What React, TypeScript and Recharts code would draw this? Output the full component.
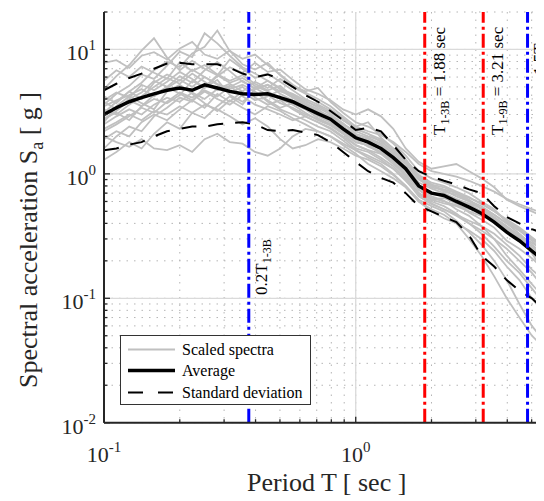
import React from 'react';
import { ComposedChart, Line, XAxis, YAxis, CartesianGrid, ReferenceLine, Legend } from 'recharts';

const FONT = "'Liberation Serif', 'Times New Roman', serif";

const periods = [0.1, 0.112, 0.126, 0.141, 0.158, 0.178, 0.2, 0.224, 0.251, 0.282, 0.316, 0.355, 0.398, 0.447, 0.501, 0.562, 0.631, 0.708, 0.794, 0.891, 1.0, 1.12, 1.26, 1.41, 1.58, 1.78, 2.0, 2.24, 2.51, 2.82, 3.16, 3.55, 3.98, 4.47, 5.01, 5.62];

const meanSa = [3.0, 3.4, 3.8, 4.1, 4.4, 4.7, 4.9, 4.7, 5.2, 4.9, 4.6, 4.4, 4.35, 4.4, 4.1, 3.8, 3.4, 3.05, 2.75, 2.3, 1.95, 1.8, 1.6, 1.35, 1.1, 0.8, 0.7, 0.67, 0.6, 0.54, 0.48, 0.41, 0.34, 0.29, 0.24, 0.2];
const upperSa = [4.7, 5.3, 5.9, 6.4, 7.0, 7.7, 7.8, 7.6, 7.6, 7.6, 7.1, 6.4, 6.0, 6.3, 5.8, 5.0, 4.3, 3.8, 3.2, 2.7, 2.25, 2.35, 2.2, 1.7, 1.3, 1.05, 0.95, 0.88, 0.82, 0.75, 0.7, 0.55, 0.45, 0.4, 0.36, 0.33];
const lowerSa = [1.55, 1.6, 1.72, 1.8, 2.0, 2.2, 2.3, 2.4, 2.4, 2.5, 2.55, 2.6, 2.5, 2.25, 2.2, 2.25, 2.15, 2.05, 1.8, 1.5, 1.25, 1.05, 0.93, 0.85, 0.7, 0.55, 0.5, 0.45, 0.41, 0.32, 0.22, 0.18, 0.14, 0.115, 0.1, 0.08];

const spectrum01 = [7.8, 8.2, 7.1, 8.9, 9.5, 8.3, 10.2, 11.5, 9.1, 8.4, 9.8, 7.6, 6.9, 7.8, 6.2, 5.1, 4.6, 4.9, 3.8, 3.1, 2.6, 2.4, 2.1, 1.75, 1.4, 1.05, 0.92, 0.85, 0.78, 0.7, 0.6, 0.52, 0.41, 0.35, 0.3, 0.26];
const spectrum02 = [1.3, 1.5, 1.8, 1.6, 2.1, 2.6, 2.3, 3.1, 2.8, 3.5, 4.2, 3.6, 4.8, 5.2, 4.4, 3.9, 3.6, 3.2, 2.9, 2.5, 2.2, 2.0, 1.85, 1.5, 1.25, 0.95, 0.82, 0.72, 0.68, 0.61, 0.55, 0.47, 0.4, 0.33, 0.27, 0.22];
const spectrum03 = [3.6, 4.4, 5.1, 6.3, 5.8, 7.4, 9.6, 8.7, 13.5, 11.2, 8.9, 7.2, 6.4, 5.6, 4.9, 4.3, 3.7, 3.3, 2.8, 2.4, 2.05, 1.85, 1.6, 1.3, 1.05, 0.78, 0.66, 0.61, 0.52, 0.46, 0.38, 0.3, 0.22, 0.17, 0.13, 0.1];
const spectrum04 = [2.5, 2.9, 3.3, 3.0, 3.6, 4.1, 3.8, 4.5, 4.0, 4.8, 5.3, 4.6, 3.9, 4.2, 4.7, 4.1, 3.5, 2.9, 2.6, 2.2, 1.8, 1.7, 1.45, 1.2, 0.98, 0.75, 0.62, 0.58, 0.55, 0.5, 0.46, 0.42, 0.36, 0.31, 0.25, 0.19];
const spectrum05 = [4.8, 6.1, 7.5, 9.8, 12.3, 8.6, 6.8, 8.1, 7.0, 6.2, 5.4, 5.9, 5.1, 4.6, 4.0, 3.6, 3.1, 2.7, 2.45, 2.1, 1.7, 1.55, 1.45, 1.25, 0.95, 0.7, 0.62, 0.64, 0.58, 0.49, 0.43, 0.37, 0.29, 0.25, 0.21, 0.17];
const spectrum06 = [2.0, 1.8, 1.65, 1.9, 1.6, 1.55, 1.7, 1.5, 1.9, 2.1, 1.8, 1.75, 1.5, 1.4, 1.6, 2.0, 2.3, 2.2, 2.0, 1.7, 1.45, 1.2, 1.05, 0.92, 0.78, 0.6, 0.5, 0.44, 0.4, 0.35, 0.3, 0.24, 0.18, 0.14, 0.1, 0.075];
const spectrum07 = [2.8, 3.1, 2.7, 3.5, 4.0, 3.7, 4.3, 5.6, 4.9, 6.1, 7.2, 6.5, 7.8, 6.6, 6.9, 5.7, 4.8, 4.4, 3.9, 3.3, 3.0, 3.3, 2.9, 2.3, 1.6, 1.25, 1.1, 1.15, 1.2, 1.05, 0.92, 0.78, 0.62, 0.55, 0.5, 0.45];
const spectrum08 = [3.3, 3.0, 3.6, 4.2, 5.0, 5.9, 5.3, 6.4, 5.5, 4.7, 5.1, 4.2, 3.6, 3.3, 3.0, 2.7, 2.9, 2.6, 2.3, 1.95, 1.6, 1.5, 1.3, 1.1, 0.88, 0.68, 0.6, 0.55, 0.48, 0.4, 0.33, 0.26, 0.2, 0.16, 0.12, 0.09];
const spectrum09 = [1.6, 2.0, 2.4, 2.2, 2.9, 3.4, 4.1, 3.8, 5.0, 6.2, 8.3, 7.0, 5.9, 6.4, 5.5, 4.7, 4.0, 3.6, 3.2, 2.7, 2.3, 2.1, 1.9, 1.6, 1.3, 0.98, 0.85, 0.8, 0.72, 0.65, 0.57, 0.5, 0.42, 0.36, 0.3, 0.25];
const spectrum10 = [3.9, 4.5, 4.1, 5.2, 4.7, 5.5, 6.6, 5.8, 4.9, 5.7, 4.3, 3.8, 4.5, 3.9, 3.4, 3.7, 3.3, 2.8, 2.5, 2.1, 1.9, 1.65, 1.5, 1.28, 1.0, 0.74, 0.64, 0.6, 0.56, 0.52, 0.5, 0.44, 0.38, 0.3, 0.24, 0.18];
const spectrum11 = [2.3, 2.6, 3.0, 2.7, 3.2, 3.0, 3.5, 3.1, 3.6, 3.3, 2.9, 2.5, 2.8, 2.4, 1.9, 1.6, 1.7, 1.9, 1.8, 1.6, 1.4, 1.3, 1.15, 0.98, 0.8, 0.62, 0.55, 0.5, 0.42, 0.34, 0.27, 0.2, 0.14, 0.09, 0.06, 0.045];
const spectrum12 = [3.1, 3.8, 4.6, 5.4, 6.8, 8.0, 7.2, 9.3, 10.5, 14.2, 9.7, 8.4, 9.1, 7.5, 6.3, 5.2, 4.5, 4.0, 3.5, 2.9, 2.4, 2.6, 1.95, 1.6, 1.3, 0.95, 0.82, 0.78, 0.7, 0.62, 0.52, 0.44, 0.36, 0.3, 0.23, 0.16];
const spectrum13 = [2.7, 3.2, 3.9, 3.5, 4.3, 5.0, 4.4, 3.9, 4.6, 4.0, 3.6, 4.3, 4.9, 5.6, 4.8, 4.4, 3.9, 3.4, 3.0, 2.55, 2.1, 1.95, 1.75, 1.45, 1.2, 0.9, 0.78, 0.74, 0.66, 0.6, 0.53, 0.45, 0.38, 0.32, 0.28, 0.24];
const spectrum14 = [3.5, 3.9, 4.3, 4.8, 4.2, 4.9, 5.7, 5.0, 6.0, 5.3, 4.8, 5.2, 4.6, 3.8, 3.3, 3.0, 2.7, 2.4, 2.2, 1.85, 1.55, 1.35, 1.2, 1.0, 0.8, 0.6, 0.52, 0.47, 0.4, 0.3, 0.22, 0.15, 0.1, 0.07, 0.05, 0.04];
const spectrum15 = [2.2, 2.5, 2.9, 3.4, 3.1, 3.8, 4.5, 4.1, 4.7, 4.2, 5.0, 5.6, 4.8, 5.2, 4.6, 4.3, 3.8, 3.5, 3.1, 2.7, 2.4, 2.2, 2.05, 1.8, 1.5, 1.2, 1.05, 1.0, 0.95, 0.88, 0.8, 0.72, 0.63, 0.57, 0.52, 0.48];
const spectrum16 = [4.2, 3.7, 4.6, 4.0, 5.4, 6.3, 5.6, 6.9, 6.0, 5.2, 4.5, 5.0, 4.1, 3.6, 3.9, 3.3, 2.9, 2.6, 2.35, 2.0, 1.7, 1.55, 1.35, 1.15, 0.92, 0.7, 0.58, 0.52, 0.47, 0.42, 0.38, 0.33, 0.27, 0.22, 0.17, 0.14];
const spectrum17 = [5.6, 6.8, 6.0, 7.3, 6.5, 5.8, 7.9, 6.7, 7.5, 6.3, 5.6, 6.2, 5.3, 4.7, 5.1, 4.2, 3.6, 3.2, 2.9, 2.4, 2.0, 1.9, 1.7, 1.4, 1.15, 0.85, 0.76, 0.7, 0.63, 0.57, 0.5, 0.43, 0.37, 0.32, 0.26, 0.21];
const spectrum18 = [1.9, 2.2, 2.0, 2.6, 3.0, 2.7, 3.3, 3.9, 3.4, 4.4, 3.8, 4.6, 5.5, 4.9, 5.8, 5.0, 4.4, 3.8, 3.3, 2.8, 2.3, 2.1, 1.8, 1.55, 1.25, 0.92, 0.8, 0.75, 0.7, 0.64, 0.58, 0.5, 0.43, 0.37, 0.31, 0.26];
const spectrum19 = [2.6, 3.5, 4.2, 3.7, 3.3, 4.6, 5.2, 4.4, 3.7, 3.2, 3.9, 3.4, 3.0, 3.5, 3.2, 2.8, 2.5, 2.2, 2.0, 1.75, 1.55, 1.4, 1.25, 1.1, 0.9, 0.66, 0.57, 0.52, 0.46, 0.4, 0.35, 0.3, 0.25, 0.2, 0.16, 0.12];
const spectrum20 = [3.8, 3.3, 4.0, 4.5, 5.6, 5.0, 6.1, 5.4, 6.8, 7.9, 6.7, 5.5, 4.9, 4.3, 3.7, 3.4, 3.0, 2.75, 2.5, 2.15, 1.8, 1.7, 1.5, 1.3, 1.08, 0.8, 0.7, 0.66, 0.62, 0.58, 0.53, 0.47, 0.4, 0.35, 0.29, 0.23];

const spectra = [spectrum01, spectrum02, spectrum03, spectrum04, spectrum05, spectrum06, spectrum07, spectrum08, spectrum09, spectrum10, spectrum11, spectrum12, spectrum13, spectrum14, spectrum15, spectrum16, spectrum17, spectrum18, spectrum19, spectrum20];

const T13B = 1.88;
const T19B = 3.21;

const xTicks = [0.1, 0.2, 0.3, 0.4, 0.5, 0.6, 0.7, 0.8, 0.9, 1, 2, 3, 4, 5, 6];
const yTicks = [0.01, 0.02, 0.03, 0.04, 0.05, 0.06, 0.07, 0.08, 0.09, 0.1, 0.2, 0.3, 0.4, 0.5, 0.6, 0.7, 0.8, 0.9, 1, 2, 3, 4, 5, 6, 7, 8, 9, 10, 20];
const xMajor = [0.1, 1];
const yMajor = [0.01, 0.1, 1, 10];
const legendLabels = ['Scaled spectra', 'Average', 'Standard deviation'];

const data = periods.map((T, i) => {
  const row: any = { T, mean: meanSa[i], up: upperSa[i], lo: lowerSa[i] };
  spectra.forEach((s, k) => { row['s' + k] = s[i]; });
  return row;
});

const isDecade = (v: number) => Math.abs(Math.log10(v) - Math.round(Math.log10(v))) < 1e-6;
const AX = '#262626';

function YTick(props: any) {
  const { x, y, payload } = props;
  const v = payload.value;
  const major = isDecade(v);
  const exp = Math.round(Math.log10(v));
  return (
    <g>
      <line x1={x} x2={x + (major ? 6 : 3.5)} y1={y} y2={y} stroke={AX} strokeWidth={1.3} />
      {major && (
        <text x={x - 8} y={y + 11} textAnchor="end" fontFamily={FONT} fontSize={22} fill={AX}>
          10<tspan fontSize={15} dy={-10}>{String(exp)}</tspan>
        </text>
      )}
    </g>
  );
}

function XTick(props: any) {
  const { x, y, payload } = props;
  const v = payload.value;
  const major = isDecade(v);
  const exp = Math.round(Math.log10(v));
  return (
    <g>
      <line x1={x} x2={x} y1={y} y2={y - (major ? 6 : 3.5)} stroke={AX} strokeWidth={1.3} />
      {major && (
        <text x={x} y={y + 39} textAnchor="middle" fontFamily={FONT} fontSize={22} fill={AX}>
          10<tspan fontSize={15} dy={-10}>{String(exp)}</tspan>
        </text>
      )}
    </g>
  );
}

const makeVLabel = (pre: string, sub: string, rest: string, dx: number, yStart: number) => (props: any) => {
  const vb = props.viewBox || {};
  const bx = (vb.x || 0) + dx;
  const by = yStart;
  return (
    <text transform={`rotate(-90 ${bx} ${by})`} x={bx} y={by} fontFamily={FONT} fontSize={17} fill="#000">
      {pre}
      <tspan fontSize={12} dy={4}>{sub}</tspan>
      {rest ? <tspan dy={-4}>{rest}</tspan> : null}
    </text>
  );
};

const LegendBox = () => (
  <div style={{ width: 191, height: 70, boxSizing: 'border-box', border: '1.5px solid #333', background: '#fff', position: 'relative', fontFamily: FONT, fontSize: 16, color: '#000' }}>
    {legendLabels.map((lab, i) => (
      <div key={lab} style={{ position: 'absolute', left: 0, top: 3 + i * 21.3, height: 21, display: 'flex', alignItems: 'center', whiteSpace: 'nowrap' }}>
        <svg width={61} height={21} style={{ display: 'block' }}>
          <line x1={7} x2={54} y1={10.5} y2={10.5}
            stroke={i === 0 ? '#c0c0c0' : '#000'}
            strokeWidth={i === 0 ? 2 : i === 1 ? 3.5 : 2}
            strokeDasharray={i === 2 ? '15 15' : undefined} />
        </svg>
        <span style={{ lineHeight: '21px' }}>{lab}</span>
      </div>
    ))}
  </div>
);

export default function App() {
  return (
    <div style={{ width: 536, height: 493, overflow: 'hidden', position: 'relative' }}>
      <ComposedChart width={560} height={493} data={data} margin={{ top: 4, right: 16.4, bottom: 8.3, left: 0 }}>
        <CartesianGrid horizontalValues={yTicks} verticalValues={xTicks} stroke="#b5b5b5" strokeWidth={1} strokeDasharray="1.5 6" />
        <CartesianGrid horizontalValues={yMajor} verticalValues={xMajor} stroke="#dadada" strokeWidth={1.3} />
        <XAxis dataKey="T" type="number" scale="log" domain={[0.1, 6]} allowDataOverflow ticks={xTicks} interval={0}
          tick={<XTick />} tickLine={false} tickSize={0} tickMargin={0} height={70}
          axisLine={{ stroke: AX, strokeWidth: 2 }}
          label={{ content: () => (
            <text x={318.7} y={483} textAnchor="middle" fontFamily={FONT} fontSize={26} fill={AX}>Period T [ sec ]</text>
          ) }} />
        <YAxis type="number" scale="log" domain={[0.01, 20]} allowDataOverflow ticks={yTicks} interval={0}
          tick={<YTick />} tickLine={false} tickSize={0} tickMargin={0} width={96}
          axisLine={{ stroke: AX, strokeWidth: 2 }}
          label={{ content: () => (
            <text transform="rotate(-90 29 232)" x={29} y={232} textAnchor="middle" fontFamily={FONT} fontSize={26} fill={AX}>
              Spectral acceleration S<tspan fontSize={18} dy={6}>a</tspan><tspan dy={-6}> [ g ]</tspan>
            </text>
          ) }} />
        {spectra.map((_, k) => (
          <Line key={k} dataKey={'s' + k} stroke="#c0c0c0" strokeWidth={1.8} dot={false} isAnimationActive={false} type="linear" legendType="none" />
        ))}
        <Line dataKey="up" stroke="#000" strokeWidth={2} strokeDasharray="15 12" dot={false} isAnimationActive={false} type="linear" />
        <Line dataKey="lo" stroke="#000" strokeWidth={2} strokeDasharray="15 12" dot={false} isAnimationActive={false} type="linear" />
        <Line dataKey="mean" stroke="#000" strokeWidth={3.5} dot={false} isAnimationActive={false} type="linear" />
        <ReferenceLine x={0.2 * T13B} stroke="#0000ff" strokeWidth={3} strokeDasharray="14 4 3 4"
          label={makeVLabel('0.2T', '1-3B', '', 18, 287)} />
        <ReferenceLine x={T13B} stroke="#ff0000" strokeWidth={3} strokeDasharray="14 4 3 4"
          label={makeVLabel('T', '1-3B', ' = 1.88 sec', 20, 127)} />
        <ReferenceLine x={T19B} stroke="#ff0000" strokeWidth={3} strokeDasharray="14 4 3 4"
          label={makeVLabel('T', '1-9B', ' = 3.21 sec', 20, 127)} />
        <ReferenceLine x={1.5 * T19B} stroke="#0000ff" strokeWidth={3} strokeDasharray="14 4 3 4"
          label={makeVLabel('1.5T', '1-9B', '', 17, 67)} />
        <Legend verticalAlign="middle" align="center" layout="horizontal" content={() => <LegendBox />}
          wrapperStyle={{ position: 'absolute', left: 112, top: 327, width: 191, height: 70 }} />
      </ComposedChart>
    </div>
  );
}
